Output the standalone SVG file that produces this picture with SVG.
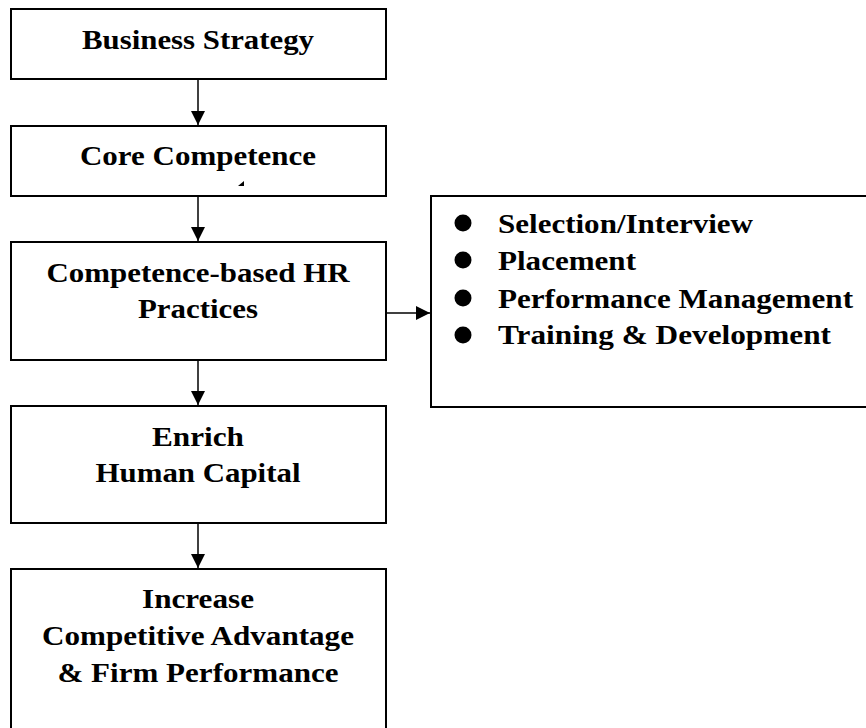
<svg xmlns="http://www.w3.org/2000/svg" width="866" height="728" viewBox="0 0 866 728">
<style>
.box{fill:#fff;stroke:#000;stroke-width:2}
.t{font-weight:bold;font-size:27px;fill:#000}
.c{text-anchor:middle}
.conn{stroke:#000;stroke-width:1.5;fill:none}
</style>
<defs>
<marker id="ah" markerUnits="userSpaceOnUse" markerWidth="14" markerHeight="14" refX="14" refY="7" orient="auto">
<path d="M0,0 L14,7 L0,14 z" fill="#000"/>
</marker>
</defs>
<rect width="866" height="728" fill="#fff"/>
<g id="connectors">
<line class="conn" x1="198" y1="80" x2="198" y2="125" marker-end="url(#ah)"/>
<line class="conn" x1="198" y1="197" x2="198" y2="241" marker-end="url(#ah)"/>
<line class="conn" x1="198" y1="361" x2="198" y2="405" marker-end="url(#ah)"/>
<line class="conn" x1="198" y1="524" x2="198" y2="568" marker-end="url(#ah)"/>
<line class="conn" x1="386" y1="313" x2="430" y2="313" marker-end="url(#ah)"/>
</g>
<g font-family="Liberation Serif, Times New Roman, serif">
<g id="business-strategy">
<rect class="box" x="11" y="9" width="375" height="70"/>
<text class="t c" x="198" y="49" textLength="232" lengthAdjust="spacingAndGlyphs">Business Strategy</text>
</g>
<g id="core-competence">
<rect class="box" x="11" y="126" width="375" height="70"/>
<text class="t c" x="198" y="165" textLength="236" lengthAdjust="spacingAndGlyphs">Core Competence</text>
<path d="M238,186 L244,181 L244,186 z" fill="#000"/>
</g>
<g id="hr-practices">
<rect class="box" x="11" y="242" width="375" height="118"/>
<text class="t c" x="198" y="282" textLength="303" lengthAdjust="spacingAndGlyphs">Competence-based HR</text>
<text class="t c" x="198" y="318" textLength="120" lengthAdjust="spacingAndGlyphs">Practices</text>
</g>
<g id="human-capital">
<rect class="box" x="11" y="406" width="375" height="117"/>
<text class="t c" x="198" y="446" textLength="92" lengthAdjust="spacingAndGlyphs">Enrich</text>
<text class="t c" x="198" y="482" textLength="205" lengthAdjust="spacingAndGlyphs">Human Capital</text>
</g>
<g id="competitive-advantage">
<rect class="box" x="11" y="569" width="375" height="200"/>
<text class="t c" x="198" y="608" textLength="112" lengthAdjust="spacingAndGlyphs">Increase</text>
<text class="t c" x="198" y="645" textLength="312" lengthAdjust="spacingAndGlyphs">Competitive Advantage</text>
<text class="t c" x="198" y="682" textLength="281" lengthAdjust="spacingAndGlyphs">&amp; Firm Performance</text>
</g>
<g id="hr-practice-list">
<rect class="box" x="431" y="196" width="500" height="211"/>
<circle cx="463" cy="223" r="8.5"/>
<circle cx="463" cy="260" r="8.5"/>
<circle cx="463" cy="298" r="8.5"/>
<circle cx="463" cy="335" r="8.5"/>
<text class="t" x="498" y="233" textLength="255" lengthAdjust="spacingAndGlyphs">Selection/Interview</text>
<text class="t" x="498" y="270" textLength="138" lengthAdjust="spacingAndGlyphs">Placement</text>
<text class="t" x="498" y="308" textLength="355" lengthAdjust="spacingAndGlyphs">Performance Management</text>
<text class="t" x="498" y="344" textLength="333" lengthAdjust="spacingAndGlyphs">Training &amp; Development</text>
</g>
</g>
</svg>
